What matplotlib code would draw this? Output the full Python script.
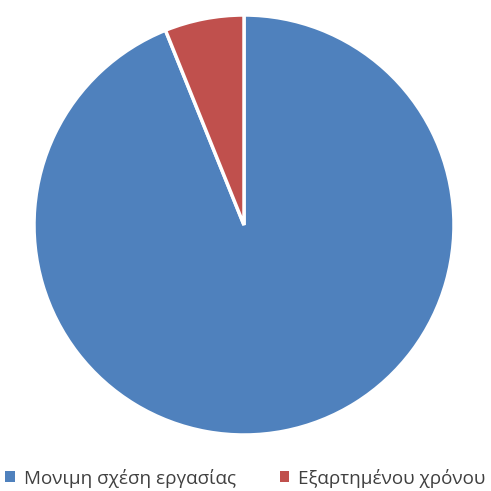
import matplotlib
matplotlib.use("Agg")
import matplotlib.pyplot as plt
from matplotlib.patches import Patch

labels = ["Μονιμη σχέση εργασίας", "Εξαρτημένου χρόνου"]
values = [93.9, 6.1]
colors = ["#4F81BD", "#C0504D"]

fig = plt.figure(figsize=(4.91, 4.91), dpi=100)
ax = fig.add_axes([34/491, 56/491, 420/491, 420/491])
ax.pie(values, colors=colors, startangle=90, counterclock=False,
       wedgeprops=dict(edgecolor="white", linewidth=2.5))
ax.set_xlim(-1, 1)
ax.set_ylim(-1, 1)
ax.set_aspect("equal")
ax.axis("off")

handles = [Patch(facecolor=c, edgecolor="none") for c in colors]
fig.legend(handles, labels, loc="center", bbox_to_anchor=(0.5, 1 - 478/491),
           ncol=2, frameon=False, handlelength=0.5, handleheight=0.5,
           handletextpad=0.5, columnspacing=2.3, borderpad=0, labelcolor="#404040",
           prop={"family": "Open Sans", "size": 13.6})

fig.savefig("out.png", dpi=100)
